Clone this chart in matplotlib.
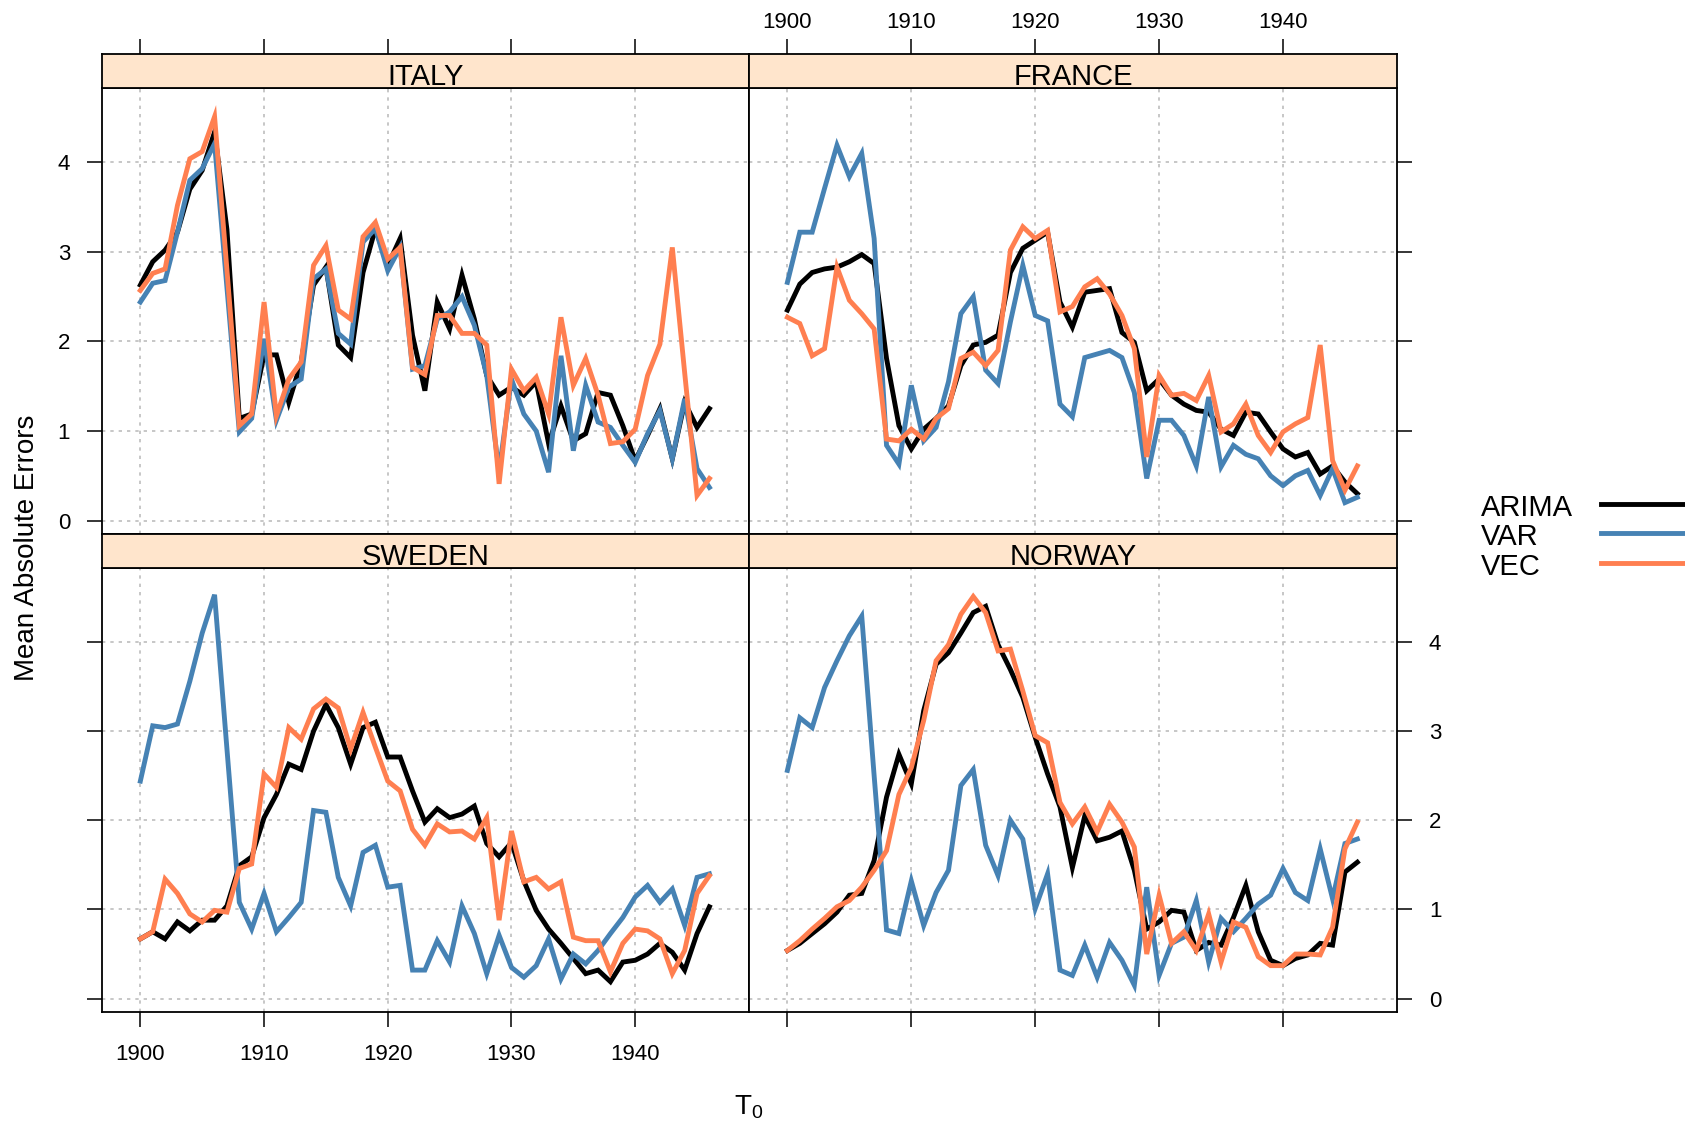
import matplotlib
matplotlib.use('Agg')
import matplotlib.pyplot as plt
from matplotlib.lines import Line2D

plt.rcParams['font.family'] = ['Liberation Sans', 'DejaVu Sans']
plt.rcParams['mathtext.fontset'] = 'custom'
plt.rcParams['mathtext.rm'] = 'Liberation Sans'
plt.rcParams['mathtext.it'] = 'Liberation Sans:italic'

# データ (1900-1946)
years = list(range(1900, 1947))
models = ['ARIMA', 'VAR', 'VEC']
colors = ['black', '#4682B4', '#FF7F50']

italy_arima = [2.63, 2.89, 3.02, 3.22, 3.70, 3.91, 4.34, 3.25, 1.14, 1.19,
               1.85, 1.85, 1.32, 1.77, 2.63, 2.83, 1.96, 1.82, 2.77, 3.26,
               2.85, 3.15, 2.07, 1.45, 2.44, 2.14, 2.74, 2.25, 1.62, 1.40,
               1.49, 1.40, 1.55, 0.86, 1.28, 0.89, 0.97, 1.43, 1.40, 1.06,
               0.67, 0.95, 1.25, 0.69, 1.32, 1.04, 1.25]
italy_var = [2.44, 2.65, 2.68, 3.22, 3.80, 3.93, 4.21, 2.60, 0.99, 1.14,
             2.03, 1.12, 1.49, 1.58, 2.70, 2.81, 2.09, 1.97, 3.11, 3.26,
             2.79, 3.05, 1.69, 1.73, 2.25, 2.33, 2.50, 2.18, 1.62, 0.55,
             1.58, 1.19, 1.00, 0.54, 1.84, 0.78, 1.51, 1.10, 1.04, 0.84,
             0.65, 0.97, 1.23, 0.69, 1.36, 0.58, 0.37]
italy_vec = [2.57, 2.76, 2.81, 3.52, 4.04, 4.12, 4.51, 2.80, 1.06, 1.19,
             2.44, 1.17, 1.58, 1.77, 2.85, 3.07, 2.35, 2.25, 3.17, 3.33,
             2.92, 3.05, 1.71, 1.63, 2.29, 2.29, 2.09, 2.09, 1.96, 0.41,
             1.69, 1.45, 1.60, 1.19, 2.27, 1.51, 1.81, 1.40, 0.86, 0.88,
             1.02, 1.62, 1.97, 3.05, 1.65, 0.28, 0.47]

france_arima = [2.35, 2.64, 2.77, 2.81, 2.83, 2.89, 2.97, 2.87, 1.81, 1.06,
                0.80, 1.02, 1.14, 1.28, 1.73, 1.96, 1.99, 2.07, 2.77, 3.04,
                3.13, 3.22, 2.44, 2.16, 2.55, 2.57, 2.59, 2.10, 1.99, 1.45,
                1.58, 1.40, 1.30, 1.23, 1.21, 1.02, 0.95, 1.21, 1.19, 0.99,
                0.80, 0.71, 0.76, 0.52, 0.61, 0.43, 0.30]
france_var = [2.66, 3.22, 3.22, 3.71, 4.19, 3.84, 4.10, 3.15, 0.84, 0.63,
              1.51, 0.89, 1.04, 1.55, 2.31, 2.50, 1.68, 1.53, 2.22, 2.85,
              2.29, 2.23, 1.30, 1.16, 1.82, 1.86, 1.90, 1.82, 1.43, 0.47,
              1.12, 1.12, 0.95, 0.61, 1.38, 0.60, 0.84, 0.74, 0.69, 0.50,
              0.39, 0.50, 0.56, 0.28, 0.58, 0.20, 0.26]
france_vec = [2.27, 2.20, 1.84, 1.92, 2.83, 2.46, 2.31, 2.14, 0.91, 0.89,
              1.02, 0.91, 1.14, 1.25, 1.81, 1.88, 1.73, 1.90, 3.02, 3.28,
              3.15, 3.24, 2.33, 2.39, 2.61, 2.70, 2.53, 2.29, 1.92, 0.71,
              1.62, 1.40, 1.42, 1.34, 1.62, 0.99, 1.08, 1.30, 0.95, 0.76,
              0.99, 1.08, 1.15, 1.96, 0.67, 0.34, 0.61]

sweden_arima = [0.67, 0.75, 0.67, 0.86, 0.76, 0.88, 0.88, 1.04, 1.49, 1.59,
                2.03, 2.29, 2.63, 2.57, 3.00, 3.30, 3.04, 2.63, 3.04, 3.10,
                2.71, 2.71, 2.33, 1.98, 2.13, 2.03, 2.07, 2.16, 1.74, 1.59,
                1.75, 1.32, 0.99, 0.78, 0.62, 0.45, 0.28, 0.32, 0.19, 0.41,
                0.43, 0.50, 0.62, 0.52, 0.32, 0.73, 1.03]
sweden_var = [2.44, 3.06, 3.04, 3.08, 3.56, 4.10, 4.53, 2.80, 1.08, 0.78,
              1.18, 0.75, 0.91, 1.08, 2.11, 2.09, 1.36, 1.04, 1.64, 1.72,
              1.25, 1.27, 0.32, 0.32, 0.65, 0.41, 1.04, 0.73, 0.28, 0.71,
              0.35, 0.24, 0.37, 0.67, 0.22, 0.50, 0.39, 0.54, 0.73, 0.91,
              1.14, 1.27, 1.08, 1.23, 0.82, 1.36, 1.40]
sweden_vec = [0.67, 0.75, 1.34, 1.18, 0.95, 0.86, 0.99, 0.97, 1.46, 1.51,
              2.52, 2.37, 3.04, 2.91, 3.25, 3.36, 3.26, 2.80, 3.21, 2.82,
              2.44, 2.33, 1.90, 1.72, 1.96, 1.87, 1.88, 1.79, 2.03, 0.88,
              1.88, 1.31, 1.36, 1.23, 1.31, 0.69, 0.65, 0.65, 0.30, 0.62,
              0.78, 0.76, 0.67, 0.28, 0.54, 1.18, 1.38]

norway_arima = [0.54, 0.62, 0.73, 0.84, 0.97, 1.16, 1.18, 1.55, 2.26, 2.74,
                2.41, 3.23, 3.75, 3.88, 4.10, 4.33, 4.40, 3.97, 3.69, 3.38,
                2.93, 2.52, 2.15, 1.47, 2.05, 1.77, 1.81, 1.88, 1.44, 0.78,
                0.86, 0.99, 0.97, 0.54, 0.63, 0.60, 0.91, 1.27, 0.75, 0.43,
                0.37, 0.45, 0.49, 0.62, 0.60, 1.42, 1.53]
norway_var = [2.56, 3.15, 3.04, 3.49, 3.79, 4.07, 4.29, 2.50, 0.77, 0.73,
              1.32, 0.82, 1.19, 1.44, 2.39, 2.57, 1.72, 1.38, 2.00, 1.79,
              1.01, 1.40, 0.32, 0.26, 0.60, 0.24, 0.63, 0.43, 0.15, 1.25,
              0.26, 0.62, 0.69, 1.10, 0.41, 0.90, 0.75, 0.90, 1.06, 1.16,
              1.46, 1.19, 1.10, 1.68, 1.12, 1.74, 1.79]
norway_vec = [0.54, 0.65, 0.78, 0.90, 1.03, 1.10, 1.25, 1.44, 1.66, 2.29,
              2.59, 3.12, 3.79, 3.97, 4.31, 4.51, 4.33, 3.90, 3.92, 3.45,
              2.95, 2.87, 2.20, 1.96, 2.15, 1.87, 2.18, 1.98, 1.70, 0.50,
              1.16, 0.62, 0.75, 0.54, 0.95, 0.41, 0.86, 0.80, 0.47, 0.37,
              0.37, 0.50, 0.50, 0.49, 0.80, 1.68, 1.98]

panels = {
    'ITALY': [italy_arima, italy_var, italy_vec],
    'FRANCE': [france_arima, france_var, france_vec],
    'SWEDEN': [sweden_arima, sweden_var, sweden_vec],
    'NORWAY': [norway_arima, norway_var, norway_vec],
}

xticks = [1900, 1910, 1920, 1930, 1940]
yticks = [0, 1, 2, 3, 4]
xlim = (1896.9, 1949.2)
ylim = (-0.15, 4.83)

W, H = 1685, 1122
fig = plt.figure(figsize=(W / 100, H / 100), dpi=100)

# パネル配置 (ピクセル)
x_left, x_mid, x_right = 102, 749, 1397
rows = {'top': (54, 88, 534), 'bottom': (534, 568, 1012)}
layout = {
    'ITALY': ('top', x_left, x_mid),
    'FRANCE': ('top', x_mid, x_right),
    'SWEDEN': ('bottom', x_left, x_mid),
    'NORWAY': ('bottom', x_mid, x_right),
}

tick_kw = dict(direction='out', length=11, width=1.1, labelsize=16, pad=12)

for name, series in panels.items():
    row, x0, x1 = layout[name]
    s_top, p_top, p_bot = rows[row]
    ax = fig.add_axes([x0 / W, 1 - p_bot / H, (x1 - x0) / W, (p_bot - p_top) / H])
    sx = fig.add_axes([x0 / W, 1 - p_top / H, (x1 - x0) / W, (p_top - s_top) / H])

    for vals, c in zip(series, colors):
        ax.plot(years, vals, color=c, lw=3.5, solid_joinstyle='miter')

    ax.set_xlim(xlim)
    ax.set_ylim(ylim)
    ax.set_xticks(xticks)
    ax.set_yticks(yticks)
    ax.grid(True, color='#bdbdbd', ls=(0, (2, 3)), lw=1.2)
    ax.tick_params(**tick_kw)
    for sp in ax.spines.values():
        sp.set_linewidth(1.3)

    # 目盛りの表示 (lattice 風)
    is_left = x0 == x_left
    is_top = row == 'top'
    ax.tick_params(axis='y', left=is_left, right=not is_left,
                   labelleft=is_left and is_top, labelright=(not is_left) and (not is_top))
    ax.tick_params(axis='x', bottom=not is_top, top=False,
                   labelbottom=(not is_top) and is_left, labeltop=False)

    # ストリップ
    sx.set_facecolor('#FFE5CC')
    sx.set_xlim(xlim)
    sx.set_ylim(0, 1)
    sx.set_yticks([])
    sx.set_xticks(xticks)
    for sp in sx.spines.values():
        sp.set_linewidth(1.3)
    sx.tick_params(**tick_kw)
    sx.tick_params(axis='x', bottom=False, labelbottom=False, pad=4,
                   top=is_top, labeltop=is_top and not is_left)
    sx.text(0.5, 0.08, name, transform=sx.transAxes, ha='center', va='baseline', fontsize=21)

# 凡例
leg_y = [508, 537, 567]
for m, c, yy in zip(models, colors, leg_y):
    fig.text(1481 / W, 1 - yy / H, m, fontsize=21, ha='left', va='center')
    fig.add_artist(Line2D([1601 / W, 1.02], [1 - (yy - 4) / H] * 2, color=c, lw=3.5,
                          transform=fig.transFigure))

fig.text(27 / W, 1 - 548 / H, 'Mean Absolute Errors', rotation=90, ha='center', va='center', fontsize=20)
fig.text(749 / W, 1 - 1107 / H, r'$\mathrm{T}_0$', ha='center', va='center', fontsize=20)

plt.savefig('out.png', dpi=100)
